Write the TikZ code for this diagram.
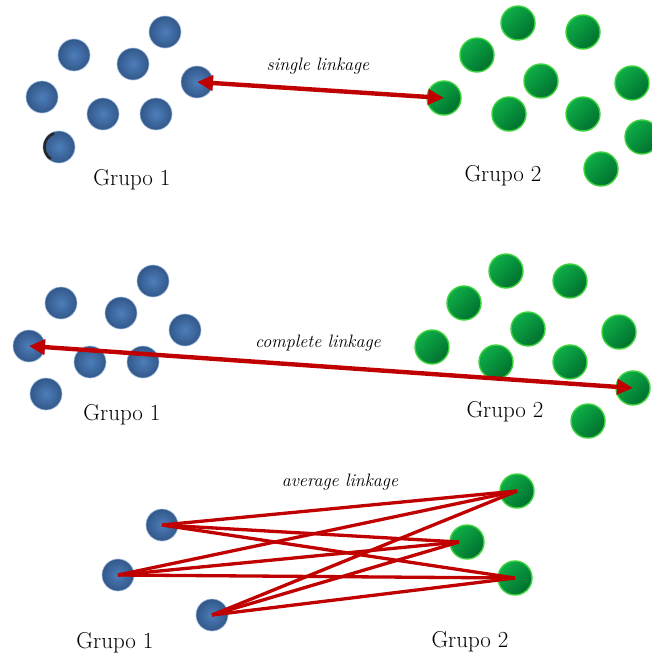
\documentclass[tikz,border=0pt]{standalone}
\usetikzlibrary{arrows.meta}
\definecolor{dotblue}{HTML}{4D7EBA}
\definecolor{dotblueedge}{HTML}{32588A}
\definecolor{dotgreen}{HTML}{0EAE48}
\definecolor{dotgreendark}{HTML}{00702E}
\definecolor{dotgreenrim}{HTML}{3CD23C}
\definecolor{linkred}{HTML}{C00000}
\tikzset{
  bdot/.style={circle, minimum size=32pt, inner sep=0pt,
    inner color=dotblue, outer color=dotblueedge,
    draw=dotblue!55!white, line width=0.6pt},
  gdot/.style={circle, minimum size=34pt, inner sep=0pt,
    top color=dotgreen, bottom color=dotgreendark, shading angle=45,
    draw=dotgreenrim, line width=1.4pt},
  grupo/.style={font=\fontsize{23}{26}\selectfont},
  linklabel/.style={font=\fontsize{18}{21}\selectfont\itshape},
  bigarrow/.style={draw=linkred, line width=4.4pt,
    {Triangle[length=16pt,width=15pt]}-{Triangle[length=16pt,width=15pt]}},
  avgline/.style={draw=linkred, line width=3.3pt},
}
\begin{document}
\begin{tikzpicture}[x=1pt, y=-1pt]
\useasboundingbox (0,0) rectangle (652,659);

% ---- single linkage ----
\node[bdot] (a1) at (74,55) {};
\node[bdot] (a2) at (165,32) {};
\node[bdot] (a3) at (133,64) {};
\node[bdot] (a4) at (197,82) {};
\node[bdot] (a5) at (42,97) {};
\node[bdot] (a6) at (103,114) {};
\node[bdot] (a7) at (156,114) {};
\node[bdot] (a8) at (59,147) {};
% dark rim on the left of the lowest dot
\draw[black!85, line width=2.5pt]
  ([shift={(110:14.5pt)}]a8.center) arc[start angle=110, end angle=235, radius=14.5pt];
\node[gdot] (b1) at (518,23) {};
\node[gdot] (b2) at (583,32) {};
\node[gdot] (b3) at (477,55) {};
\node[gdot] (b4) at (541,81) {};
\node[gdot] (b5) at (632,83) {};
\node[gdot] (b6) at (444,98) {};
\node[gdot] (b7) at (509,114) {};
\node[gdot] (b8) at (583,114) {};
\node[gdot] (b9) at (642,137) {};
\node[gdot] (b10) at (601,169) {};
\node[grupo] (ga1) at (132,180) {Grupo 1};
\node[grupo] (gb1) at (503,176) {Grupo 2};
\node[linklabel] (ls) at (318,66) {single linkage};
\draw[bigarrow] (a4.center) -- (b6.center);

% ---- complete linkage ----
\node[bdot] (c1) at (153,281) {};
\node[bdot] (c2) at (61,303) {};
\node[bdot] (c3) at (121,313) {};
\node[bdot] (c4) at (185,330) {};
\node[bdot] (c5) at (29,346) {};
\node[bdot] (c6) at (90,362) {};
\node[bdot] (c7) at (143,362) {};
\node[bdot] (c8) at (46,394) {};
\node[gdot] (d1) at (506,271) {};
\node[gdot] (d2) at (570,281) {};
\node[gdot] (d3) at (464,303) {};
\node[gdot] (d4) at (528,329) {};
\node[gdot] (d5) at (619,332) {};
\node[gdot] (d6) at (432,347) {};
\node[gdot] (d7) at (496,362) {};
\node[gdot] (d8) at (570,362) {};
\node[gdot] (d9) at (633,388) {};
\node[gdot] (d10) at (588,421) {};
\node[grupo] (ga2) at (122,415) {Grupo 1};
\node[grupo] (gb2) at (505,412) {Grupo 2};
\node[linklabel] (lc) at (318,343) {complete linkage};
\draw[bigarrow] (c5.center) -- (d9.center);

% ---- average linkage ----
\node[bdot] (e1) at (162,525) {};
\node[bdot] (e2) at (118,575) {};
\node[bdot] (e3) at (212,615) {};
\node[gdot] (f1) at (517,491) {};
\node[gdot] (f2) at (467,542) {};
\node[gdot] (f3) at (515,578) {};
\coordinate (f2e) at (459,542);
\node[grupo] (ga3) at (115,643) {Grupo 1};
\node[grupo] (gb3) at (470,642) {Grupo 2};
\node[linklabel] (la) at (340,482) {average linkage};
\foreach \s in {e1,e2,e3}{
  \draw[avgline] (\s.center) -- (f1.center);
  \draw[avgline] (\s.center) -- (f2e);
  \draw[avgline] (\s.center) -- (f3.center);
}
\end{tikzpicture}
\end{document}
